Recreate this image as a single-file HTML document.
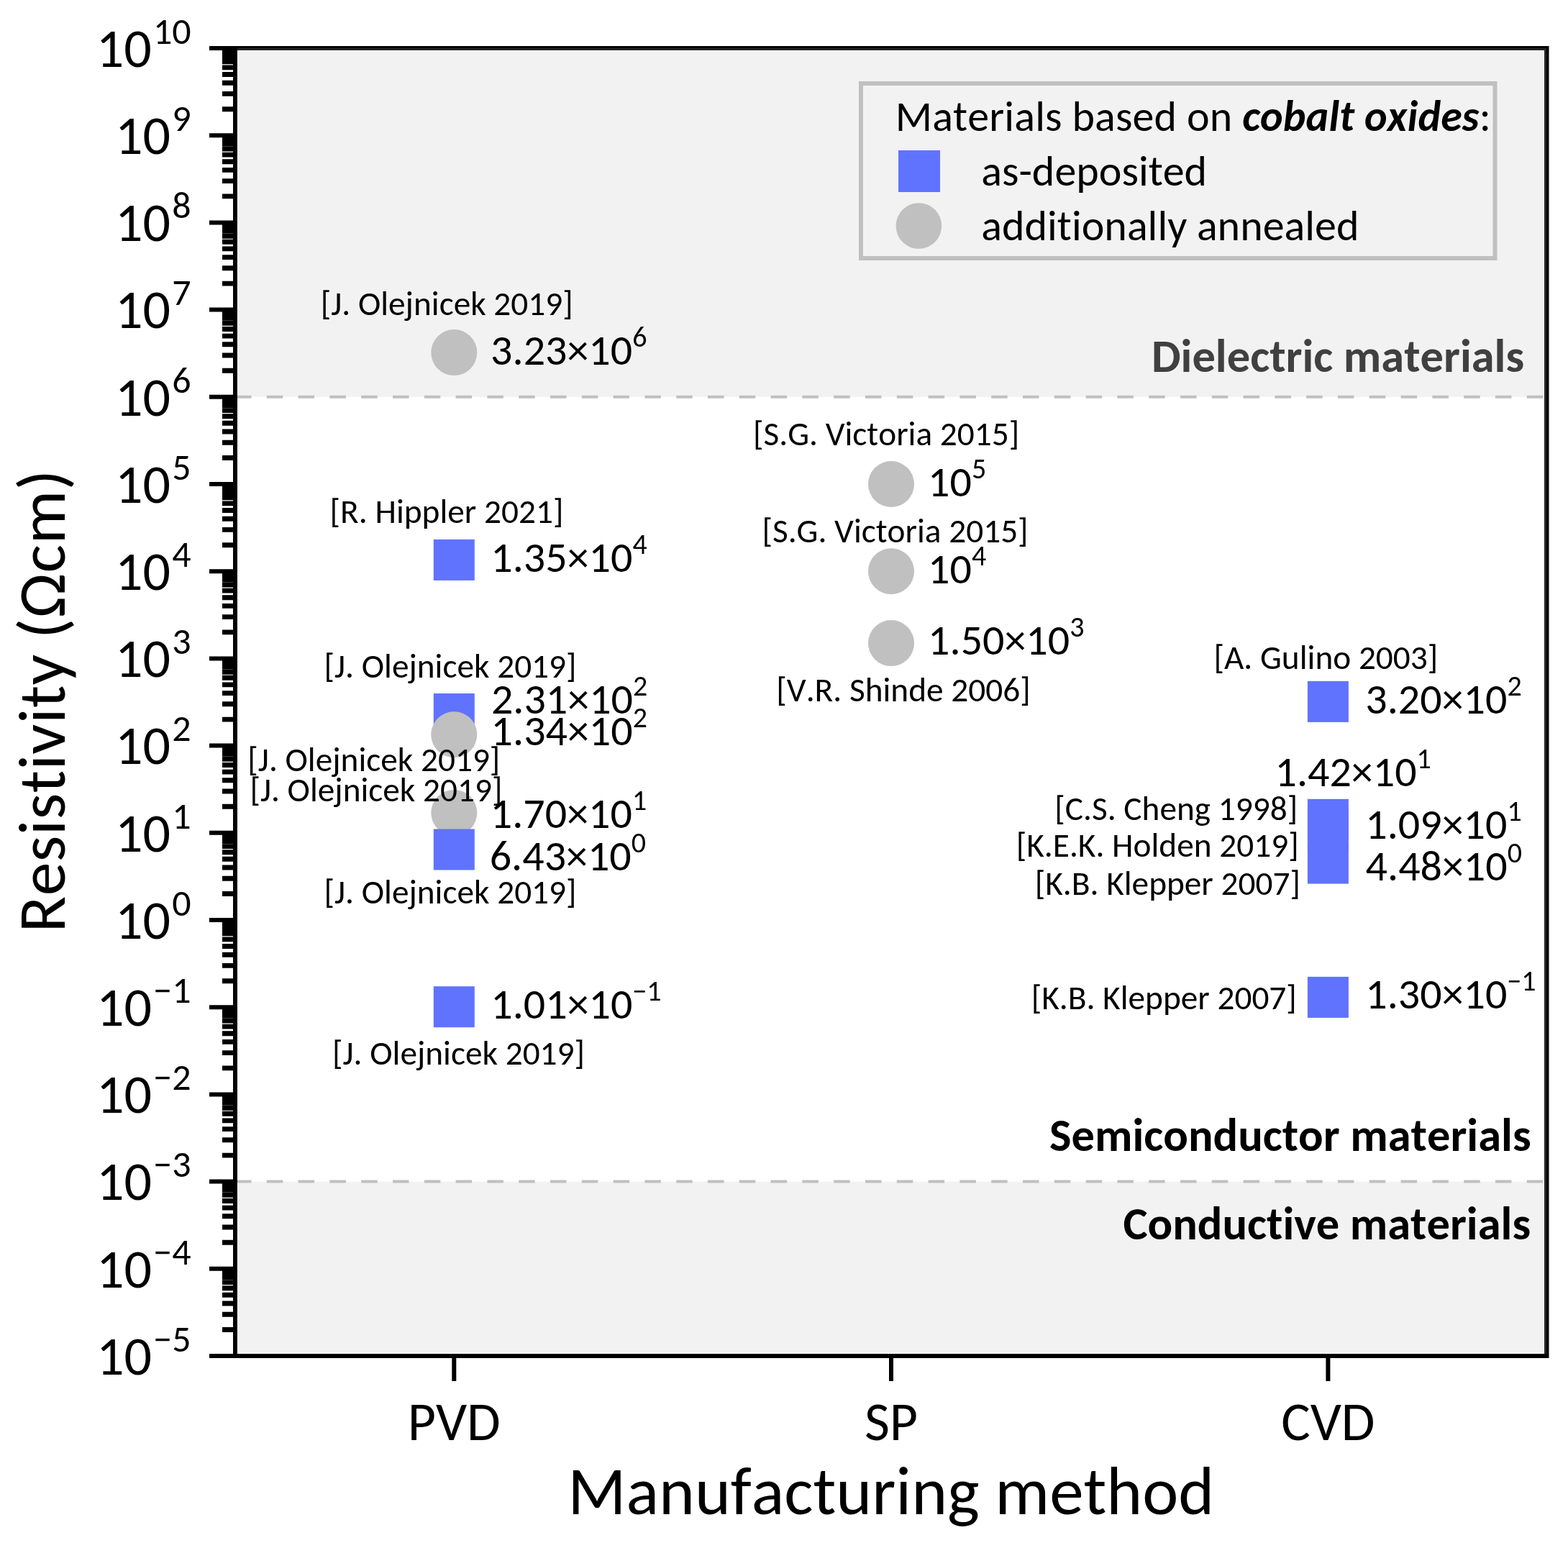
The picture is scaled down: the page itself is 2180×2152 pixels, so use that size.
<!DOCTYPE html>
<html><head><meta charset="utf-8"><title>Resistivity of cobalt oxide materials</title>
<style>
html,body{margin:0;padding:0;background:#fff;}
body{width:2180px;height:2152px;overflow:hidden;}
svg{display:block;}
text{font-family:Carlito, 'Liberation Sans', sans-serif;font-variant-ligatures:none;font-kerning:none;font-feature-settings:"liga" 0,"clig" 0,"kern" 0;}
</style></head>
<body>
<svg width="2180" height="2152" viewBox="0 0 2180 2152">
<rect width="2180" height="2152" fill="#fff"/>
<rect x="331" y="71" width="1815" height="480.8" fill="#F2F2F2"/>
<rect x="331" y="1642.6" width="1815" height="238.4" fill="#F2F2F2"/>
<line x1="327" y1="551.8" x2="2150.5" y2="551.8" stroke="#C0C0C0" stroke-width="4" stroke-dasharray="22.5 21.3"/>
<line x1="327" y1="1642.6" x2="2150.5" y2="1642.6" stroke="#C0C0C0" stroke-width="4" stroke-dasharray="22.5 21.3"/>
<rect x="1197" y="116" width="881.5" height="243" fill="#F2F2F2" stroke="#C0C0C0" stroke-width="6"/>
<rect x="1249" y="209" width="58" height="58" fill="#6073FF"/>
<circle cx="1277.4" cy="314" r="31.8" fill="#C0C0C0"/>
<text x="1244.7" y="181.5" font-size="60" textLength="828" lengthAdjust="spacing">Materials based on <tspan font-weight="bold" font-style="italic">cobalt oxides</tspan>:</text>
<text x="1364.3" y="258.2" font-size="60" textLength="313.83" lengthAdjust="spacingAndGlyphs">as-deposited</text>
<text x="1364.3" y="334.4" font-size="60" textLength="525.12" lengthAdjust="spacingAndGlyphs">additionally annealed</text>
<circle cx="631.3" cy="490.1" r="32" fill="#C0C0C0"/>
<rect x="602.8" y="749.9" width="57" height="57" fill="#6073FF"/>
<rect x="602.8" y="964.0" width="57" height="57" fill="#6073FF"/>
<circle cx="631.3" cy="1021.2" r="32" fill="#C0C0C0"/>
<circle cx="631.3" cy="1129.9" r="32" fill="#C0C0C0"/>
<rect x="602.8" y="1152.5" width="57" height="57" fill="#6073FF"/>
<rect x="602.8" y="1371.2" width="57" height="57" fill="#6073FF"/>
<circle cx="1239.0" cy="673.0" r="32" fill="#C0C0C0"/>
<circle cx="1239.0" cy="794.2" r="32" fill="#C0C0C0"/>
<circle cx="1239.0" cy="894.1" r="32" fill="#C0C0C0"/>
<rect x="1817.9" y="946.9" width="57" height="57" fill="#6073FF"/>
<rect x="1817.9" y="1110.8" width="57" height="57" fill="#6073FF"/>
<rect x="1817.9" y="1124.8" width="57" height="57" fill="#6073FF"/>
<rect x="1817.9" y="1171.6" width="57" height="57" fill="#6073FF"/>
<rect x="1817.9" y="1357.9" width="57" height="57" fill="#6073FF"/>
<text x="682.1" y="507.0" font-size="60" textLength="197.08" lengthAdjust="spacingAndGlyphs">3.23×10</text>
<text x="879.2" y="482.0" font-size="40" textLength="20.27" lengthAdjust="spacingAndGlyphs">6</text>
<text x="682.3" y="795.2" font-size="60" textLength="197.08" lengthAdjust="spacingAndGlyphs">1.35×10</text>
<text x="879.4" y="770.2" font-size="40" textLength="20.27" lengthAdjust="spacingAndGlyphs">4</text>
<text x="682.9" y="991.6" font-size="60" textLength="197.08" lengthAdjust="spacingAndGlyphs">2.31×10</text>
<text x="880.0" y="966.6" font-size="40" textLength="20.27" lengthAdjust="spacingAndGlyphs">2</text>
<text x="682.6" y="1035.7" font-size="60" textLength="197.08" lengthAdjust="spacingAndGlyphs">1.34×10</text>
<text x="879.7" y="1010.7" font-size="40" textLength="20.27" lengthAdjust="spacingAndGlyphs">2</text>
<text x="681.8" y="1150.8" font-size="60" textLength="197.08" lengthAdjust="spacingAndGlyphs">1.70×10</text>
<text x="878.9" y="1125.8" font-size="40" textLength="20.27" lengthAdjust="spacingAndGlyphs">1</text>
<text x="680.7" y="1210.4" font-size="60" textLength="197.08" lengthAdjust="spacingAndGlyphs">6.43×10</text>
<text x="877.8" y="1185.4" font-size="40" textLength="20.27" lengthAdjust="spacingAndGlyphs">0</text>
<text x="682.3" y="1416.3" font-size="60" textLength="197.08" lengthAdjust="spacingAndGlyphs">1.01×10</text>
<text x="879.4" y="1391.3" font-size="40" textLength="40.20" lengthAdjust="spacingAndGlyphs">−1</text>
<text x="1290.1" y="689.6" font-size="60" textLength="60.82" lengthAdjust="spacingAndGlyphs">10</text>
<text x="1350.9" y="664.6" font-size="40" textLength="20.27" lengthAdjust="spacingAndGlyphs">5</text>
<text x="1290.1" y="810.7" font-size="60" textLength="60.82" lengthAdjust="spacingAndGlyphs">10</text>
<text x="1350.9" y="785.7" font-size="40" textLength="20.27" lengthAdjust="spacingAndGlyphs">4</text>
<text x="1290.1" y="910.4" font-size="60" textLength="197.08" lengthAdjust="spacingAndGlyphs">1.50×10</text>
<text x="1487.2" y="885.4" font-size="40" textLength="20.27" lengthAdjust="spacingAndGlyphs">3</text>
<text x="1898.3" y="991.8" font-size="60" textLength="197.08" lengthAdjust="spacingAndGlyphs">3.20×10</text>
<text x="2095.4" y="966.8" font-size="40" textLength="20.27" lengthAdjust="spacingAndGlyphs">2</text>
<text x="1772.5" y="1092.9" font-size="60" textLength="197.08" lengthAdjust="spacingAndGlyphs">1.42×10</text>
<text x="1969.6" y="1067.9" font-size="40" textLength="20.27" lengthAdjust="spacingAndGlyphs">1</text>
<text x="1898.3" y="1165.7" font-size="60" textLength="197.08" lengthAdjust="spacingAndGlyphs">1.09×10</text>
<text x="2095.4" y="1140.7" font-size="40" textLength="20.27" lengthAdjust="spacingAndGlyphs">1</text>
<text x="1898.6" y="1224.0" font-size="60" textLength="197.08" lengthAdjust="spacingAndGlyphs">4.48×10</text>
<text x="2095.7" y="1199.0" font-size="40" textLength="20.27" lengthAdjust="spacingAndGlyphs">0</text>
<text x="1898.3" y="1402.0" font-size="60" textLength="197.08" lengthAdjust="spacingAndGlyphs">1.30×10</text>
<text x="2095.4" y="1377.0" font-size="40" textLength="40.20" lengthAdjust="spacingAndGlyphs">−1</text>
<text x="445.7" y="437.9" font-size="47.3" textLength="351.08" lengthAdjust="spacingAndGlyphs">[J. Olejnicek 2019]</text>
<text x="458.6" y="726.6" font-size="47.3" textLength="324.82" lengthAdjust="spacingAndGlyphs">[R. Hippler 2021]</text>
<text x="450.5" y="941.9" font-size="47.3" textLength="351.08" lengthAdjust="spacingAndGlyphs">[J. Olejnicek 2019]</text>
<text x="344.3" y="1072.4" font-size="47.3" textLength="351.08" lengthAdjust="spacingAndGlyphs">[J. Olejnicek 2019]</text>
<text x="347.4" y="1114.3" font-size="47.3" textLength="351.08" lengthAdjust="spacingAndGlyphs">[J. Olejnicek 2019]</text>
<text x="450.5" y="1255.5" font-size="47.3" textLength="351.08" lengthAdjust="spacingAndGlyphs">[J. Olejnicek 2019]</text>
<text x="462.0" y="1479.8" font-size="47.3" textLength="351.08" lengthAdjust="spacingAndGlyphs">[J. Olejnicek 2019]</text>
<text x="1047.0" y="618.7" font-size="47.3" textLength="370.22" lengthAdjust="spacingAndGlyphs">[S.G. Victoria 2015]</text>
<text x="1059.4" y="754.3" font-size="47.3" textLength="370.22" lengthAdjust="spacingAndGlyphs">[S.G. Victoria 2015]</text>
<text x="1079.3" y="975.0" font-size="47.3" textLength="353.36" lengthAdjust="spacingAndGlyphs">[V.R. Shinde 2006]</text>
<text x="1687.5" y="929.7" font-size="47.3" textLength="311.79" lengthAdjust="spacingAndGlyphs">[A. Gulino 2003]</text>
<text x="1466.3" y="1140.1" font-size="47.3" textLength="337.84" lengthAdjust="spacingAndGlyphs">[C.S. Cheng 1998]</text>
<text x="1412.8" y="1191.3" font-size="47.3" textLength="392.86" lengthAdjust="spacingAndGlyphs">[K.E.K. Holden 2019]</text>
<text x="1438.8" y="1244.4" font-size="47.3" textLength="369.16" lengthAdjust="spacingAndGlyphs">[K.B. Klepper 2007]</text>
<text x="1433.7" y="1402.8" font-size="47.3" textLength="369.16" lengthAdjust="spacingAndGlyphs">[K.B. Klepper 2007]</text>
<text x="1600.9" y="516.6" font-size="64.5" textLength="518.30" lengthAdjust="spacingAndGlyphs" font-weight="bold" fill="#404040">Dielectric materials</text>
<text x="1459.0" y="1599.6" font-size="64.5" textLength="669.63" lengthAdjust="spacingAndGlyphs" font-weight="bold">Semiconductor materials</text>
<text x="1561.4" y="1722.6" font-size="64.5" textLength="566.74" lengthAdjust="spacingAndGlyphs" font-weight="bold">Conductive materials</text>
<rect x="327" y="67" width="1823.5" height="1818" fill="none" stroke="#000" stroke-width="6"/>
<path d="M330 68.5H2148.5V1882" fill="none" stroke="#252525" stroke-width="3"/>
<path d="M291 67.0H327M291 188.2H327M291 309.4H327M291 430.6H327M291 551.8H327M291 673.0H327M291 794.2H327M291 915.4H327M291 1036.6H327M291 1157.8H327M291 1279.0H327M291 1400.2H327M291 1521.4H327M291 1642.6H327M291 1763.8H327M291 1885.0H327" stroke="#000" stroke-width="6" fill="none"/>
<path d="M309 151.7H327M309 130.4H327M309 115.2H327M309 103.5H327M309 93.9H327M309 85.8H327M309 78.7H327M309 72.5H327M309 272.9H327M309 251.6H327M309 236.4H327M309 224.7H327M309 215.1H327M309 207.0H327M309 199.9H327M309 193.7H327M309 394.1H327M309 372.8H327M309 357.6H327M309 345.9H327M309 336.3H327M309 328.2H327M309 321.1H327M309 314.9H327M309 515.3H327M309 494.0H327M309 478.8H327M309 467.1H327M309 457.5H327M309 449.4H327M309 442.3H327M309 436.1H327M309 636.5H327M309 615.2H327M309 600.0H327M309 588.3H327M309 578.7H327M309 570.6H327M309 563.5H327M309 557.3H327M309 757.7H327M309 736.4H327M309 721.2H327M309 709.5H327M309 699.9H327M309 691.8H327M309 684.7H327M309 678.5H327M309 878.9H327M309 857.6H327M309 842.4H327M309 830.7H327M309 821.1H327M309 813.0H327M309 805.9H327M309 799.7H327M309 1000.1H327M309 978.8H327M309 963.6H327M309 951.9H327M309 942.3H327M309 934.2H327M309 927.1H327M309 920.9H327M309 1121.3H327M309 1100.0H327M309 1084.8H327M309 1073.1H327M309 1063.5H327M309 1055.4H327M309 1048.3H327M309 1042.1H327M309 1242.5H327M309 1221.2H327M309 1206.0H327M309 1194.3H327M309 1184.7H327M309 1176.6H327M309 1169.5H327M309 1163.3H327M309 1363.7H327M309 1342.4H327M309 1327.2H327M309 1315.5H327M309 1305.9H327M309 1297.8H327M309 1290.7H327M309 1284.5H327M309 1484.9H327M309 1463.6H327M309 1448.4H327M309 1436.7H327M309 1427.1H327M309 1419.0H327M309 1411.9H327M309 1405.7H327M309 1606.1H327M309 1584.8H327M309 1569.6H327M309 1557.9H327M309 1548.3H327M309 1540.2H327M309 1533.1H327M309 1526.9H327M309 1727.3H327M309 1706.0H327M309 1690.8H327M309 1679.1H327M309 1669.5H327M309 1661.4H327M309 1654.3H327M309 1648.1H327M309 1848.5H327M309 1827.2H327M309 1812.0H327M309 1800.3H327M309 1790.7H327M309 1782.6H327M309 1775.5H327M309 1769.3H327" stroke="#000" stroke-width="6.9" fill="none"/>
<path d="M631.3 1885V1920M1239.0 1885V1920M1846.4 1885V1920" stroke="#000" stroke-width="6" fill="none"/>
<text x="133.7" y="92.7" font-size="76" textLength="77.04" lengthAdjust="spacingAndGlyphs">10</text>
<text x="212.9" y="60.7" font-size="52" textLength="52.71" lengthAdjust="spacingAndGlyphs">10</text>
<text x="160.0" y="213.9" font-size="76" textLength="77.04" lengthAdjust="spacingAndGlyphs">10</text>
<text x="239.2" y="181.9" font-size="52" textLength="26.36" lengthAdjust="spacingAndGlyphs">9</text>
<text x="160.0" y="335.1" font-size="76" textLength="77.04" lengthAdjust="spacingAndGlyphs">10</text>
<text x="239.2" y="303.1" font-size="52" textLength="26.36" lengthAdjust="spacingAndGlyphs">8</text>
<text x="160.0" y="456.3" font-size="76" textLength="77.04" lengthAdjust="spacingAndGlyphs">10</text>
<text x="239.2" y="424.3" font-size="52" textLength="26.36" lengthAdjust="spacingAndGlyphs">7</text>
<text x="160.0" y="577.5" font-size="76" textLength="77.04" lengthAdjust="spacingAndGlyphs">10</text>
<text x="239.2" y="545.5" font-size="52" textLength="26.36" lengthAdjust="spacingAndGlyphs">6</text>
<text x="160.0" y="698.7" font-size="76" textLength="77.04" lengthAdjust="spacingAndGlyphs">10</text>
<text x="239.2" y="666.7" font-size="52" textLength="26.36" lengthAdjust="spacingAndGlyphs">5</text>
<text x="160.0" y="819.9" font-size="76" textLength="77.04" lengthAdjust="spacingAndGlyphs">10</text>
<text x="239.2" y="787.9" font-size="52" textLength="26.36" lengthAdjust="spacingAndGlyphs">4</text>
<text x="160.0" y="941.1" font-size="76" textLength="77.04" lengthAdjust="spacingAndGlyphs">10</text>
<text x="239.2" y="909.1" font-size="52" textLength="26.36" lengthAdjust="spacingAndGlyphs">3</text>
<text x="160.0" y="1062.3" font-size="76" textLength="77.04" lengthAdjust="spacingAndGlyphs">10</text>
<text x="239.2" y="1030.3" font-size="52" textLength="26.36" lengthAdjust="spacingAndGlyphs">2</text>
<text x="160.0" y="1183.5" font-size="76" textLength="77.04" lengthAdjust="spacingAndGlyphs">10</text>
<text x="239.2" y="1151.5" font-size="52" textLength="26.36" lengthAdjust="spacingAndGlyphs">1</text>
<text x="160.0" y="1304.7" font-size="76" textLength="77.04" lengthAdjust="spacingAndGlyphs">10</text>
<text x="239.2" y="1272.7" font-size="52" textLength="26.36" lengthAdjust="spacingAndGlyphs">0</text>
<text x="134.1" y="1425.9" font-size="76" textLength="77.04" lengthAdjust="spacingAndGlyphs">10</text>
<text x="213.3" y="1393.9" font-size="52" textLength="52.25" lengthAdjust="spacingAndGlyphs">−1</text>
<text x="134.1" y="1547.1" font-size="76" textLength="77.04" lengthAdjust="spacingAndGlyphs">10</text>
<text x="213.3" y="1515.1" font-size="52" textLength="52.25" lengthAdjust="spacingAndGlyphs">−2</text>
<text x="134.1" y="1668.3" font-size="76" textLength="77.04" lengthAdjust="spacingAndGlyphs">10</text>
<text x="213.3" y="1636.3" font-size="52" textLength="52.25" lengthAdjust="spacingAndGlyphs">−3</text>
<text x="134.1" y="1789.5" font-size="76" textLength="77.04" lengthAdjust="spacingAndGlyphs">10</text>
<text x="213.3" y="1757.5" font-size="52" textLength="52.25" lengthAdjust="spacingAndGlyphs">−4</text>
<text x="134.1" y="1910.7" font-size="76" textLength="77.04" lengthAdjust="spacingAndGlyphs">10</text>
<text x="213.3" y="1878.7" font-size="52" textLength="52.25" lengthAdjust="spacingAndGlyphs">−5</text>
<text x="631.3" y="2002.0" font-size="76" textLength="129.14" lengthAdjust="spacingAndGlyphs" text-anchor="middle">PVD</text>
<text x="1239.0" y="2002.0" font-size="76" textLength="74.18" lengthAdjust="spacingAndGlyphs" text-anchor="middle">SP</text>
<text x="1846.4" y="2002.0" font-size="76" textLength="130.40" lengthAdjust="spacingAndGlyphs" text-anchor="middle">CVD</text>
<text x="789.3" y="2104.6" font-size="95" textLength="898.88" lengthAdjust="spacingAndGlyphs">Manufacturing method</text>
<text x="0" y="0" font-size="93.5" textLength="643.5" lengthAdjust="spacing" transform="translate(89.7 1296.5) rotate(-90)">Resistivity (Ωcm)</text>
</svg>
</body></html>
